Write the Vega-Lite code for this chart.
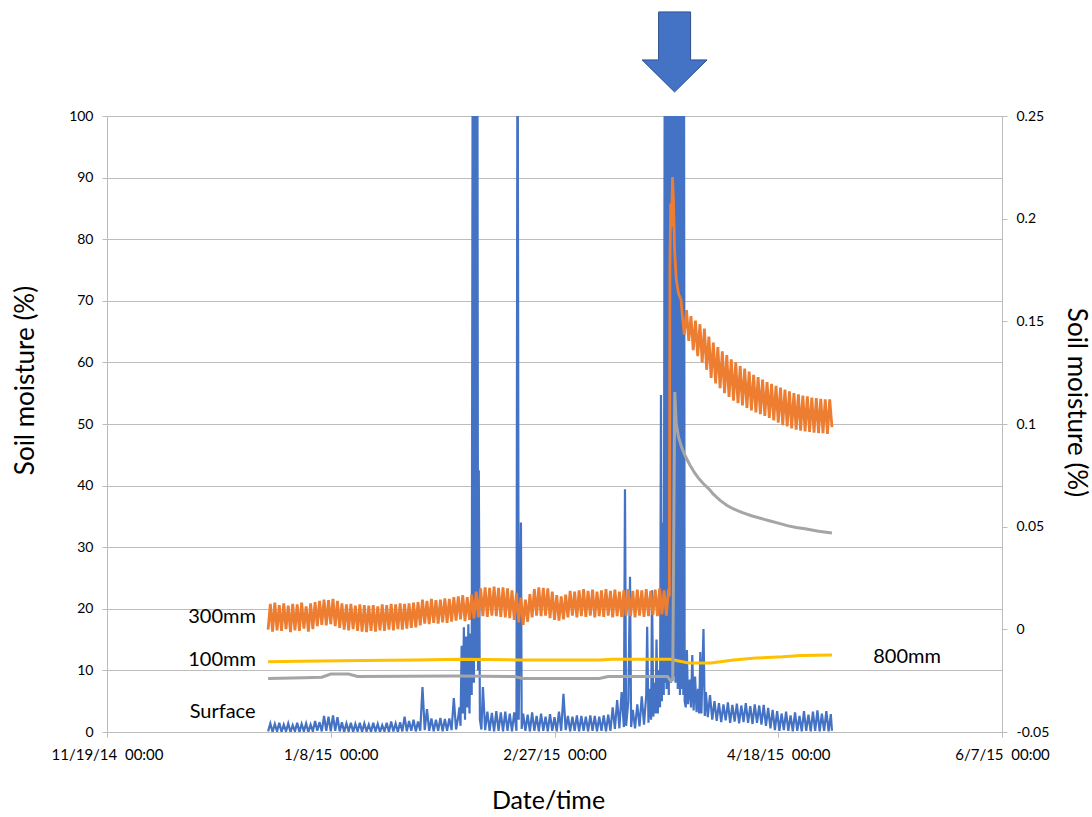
{
"$schema": "https://vega.github.io/schema/vega-lite/v6.json",
"width": 895, "height": 616,
"autosize": {"type": "none"},
"padding": {"left": 107, "top": 116, "right": 90, "bottom": 85},
"background": "white",
"config": {"view": {"stroke": null}, "font": "Lato"},
"layer": [
{
"encoding": {
 "x": {"field": "t", "type": "temporal",
  "scale": {"domain": [{"year":2014,"month":11,"date":19},{"year":2015,"month":6,"date":7}]},
  "axis": {"values": [{"year":2014,"month":11,"date":19},{"year":2015,"month":1,"date":8},{"year":2015,"month":2,"date":27},{"year":2015,"month":4,"date":18},{"year":2015,"month":6,"date":7}],
   "format": "%-m/%-d/%y\u00a0\u00a0%H:%M", "formatType": "time", "labelFlush": false, "labelOverlap": false,
   "grid": false, "domainColor": "#bcbcbc", "tickColor": "#bcbcbc", "tickSize": 5,
   "labelFont": "Lato", "labelFontSize": 15, "labelColor": "#000", "labelPadding": 10,
   "title": "Date/time", "titleFont": "Lato", "titleFontSize": 25, "titleFontWeight": "normal", "titleColor": "#000",
   "titleX": 441, "titleY": 68, "titleAlign": "center", "titleBaseline": "middle"}},
 "y": {"field": "v", "type": "quantitative",
  "scale": {"domain": [0, 100], "nice": false},
  "axis": {"values": [0,10,20,30,40,50,60,70,80,90,100], "grid": true, "gridColor": "#bcbcbc", "gridWidth": 1,
   "domainColor": "#bcbcbc", "tickColor": "#bcbcbc", "tickSize": 5,
   "labelFont": "Lato", "labelFontSize": 14, "labelColor": "#000", "labelPadding": 9,
   "title": "Soil moisture (%)", "titleFont": "Lato", "titleFontSize": 26, "titleFontWeight": "normal", "titleColor": "#000",
   "titleX": -82, "titleY": 264, "titleAngle": -90, "titleAlign": "center", "titleBaseline": "middle"}}
},
"layer": [
{
"data": {"values": [
{"t":"2014-12-25T00:00","v":0.1},{"t":"2014-12-25T12:00","v":1.4},
{"t":"2014-12-26T00:00","v":0.0},{"t":"2014-12-26T12:00","v":1.3},
{"t":"2014-12-27T00:00","v":0.1},{"t":"2014-12-27T12:00","v":1.5},
{"t":"2014-12-28T00:00","v":0.0},{"t":"2014-12-28T12:00","v":1.2},
{"t":"2014-12-29T00:00","v":0.1},{"t":"2014-12-29T12:00","v":1.4},
{"t":"2014-12-30T00:00","v":0.0},{"t":"2014-12-30T12:00","v":1.1},
{"t":"2014-12-31T00:00","v":0.1},{"t":"2014-12-31T12:00","v":1.5},
{"t":"2015-01-01T00:00","v":0.0},{"t":"2015-01-01T12:00","v":1.3},
{"t":"2015-01-02T00:00","v":0.1},{"t":"2015-01-02T12:00","v":1.4},
{"t":"2015-01-03T00:00","v":0.0},{"t":"2015-01-03T12:00","v":1.2},
{"t":"2015-01-04T00:00","v":0.1},{"t":"2015-01-04T12:00","v":1.8},
{"t":"2015-01-05T00:00","v":0.2},{"t":"2015-01-05T12:00","v":1.6},
{"t":"2015-01-06T00:00","v":0.1},{"t":"2015-01-06T12:00","v":2.6},
{"t":"2015-01-07T00:00","v":0.2},{"t":"2015-01-07T12:00","v":2.5},
{"t":"2015-01-08T00:00","v":0.1},{"t":"2015-01-08T12:00","v":2.7},
{"t":"2015-01-09T00:00","v":0.2},{"t":"2015-01-09T12:00","v":2.4},
{"t":"2015-01-10T00:00","v":0.1},{"t":"2015-01-10T12:00","v":1.6},
{"t":"2015-01-11T00:00","v":0.0},{"t":"2015-01-11T12:00","v":1.4},
{"t":"2015-01-12T00:00","v":0.1},{"t":"2015-01-12T12:00","v":1.5},
{"t":"2015-01-13T00:00","v":0.0},{"t":"2015-01-13T12:00","v":1.3},
{"t":"2015-01-14T00:00","v":0.1},{"t":"2015-01-14T12:00","v":1.5},
{"t":"2015-01-15T00:00","v":0.0},{"t":"2015-01-15T12:00","v":1.4},
{"t":"2015-01-16T00:00","v":0.1},{"t":"2015-01-16T12:00","v":1.2},
{"t":"2015-01-17T00:00","v":0.0},{"t":"2015-01-17T12:00","v":1.5},
{"t":"2015-01-18T00:00","v":0.1},{"t":"2015-01-18T12:00","v":1.3},
{"t":"2015-01-19T00:00","v":0.0},{"t":"2015-01-19T12:00","v":1.1},
{"t":"2015-01-20T00:00","v":0.1},{"t":"2015-01-20T12:00","v":1.5},
{"t":"2015-01-21T00:00","v":0.0},{"t":"2015-01-21T12:00","v":1.7},
{"t":"2015-01-22T00:00","v":0.1},{"t":"2015-01-22T12:00","v":1.4},
{"t":"2015-01-23T00:00","v":0.0},{"t":"2015-01-23T12:00","v":1.6},
{"t":"2015-01-24T00:00","v":0.1},{"t":"2015-01-24T12:00","v":2.5},
{"t":"2015-01-25T00:00","v":0.1},{"t":"2015-01-25T12:00","v":1.8},
{"t":"2015-01-26T00:00","v":0.2},{"t":"2015-01-26T12:00","v":2.0},
{"t":"2015-01-27T00:00","v":0.1},{"t":"2015-01-27T12:00","v":1.7},
{"t":"2015-01-28T00:00","v":0.2},{"t":"2015-01-28T12:00","v":7.3},
{"t":"2015-01-29T00:00","v":0.3},{"t":"2015-01-29T12:00","v":3.7},
{"t":"2015-01-30T00:00","v":0.2},{"t":"2015-01-30T12:00","v":2.2},
{"t":"2015-01-31T00:00","v":0.1},{"t":"2015-01-31T12:00","v":2.0},
{"t":"2015-02-01T00:00","v":0.2},{"t":"2015-02-01T12:00","v":2.3},
{"t":"2015-02-02T00:00","v":0.1},{"t":"2015-02-02T12:00","v":2.1},
{"t":"2015-02-03T00:00","v":0.2},{"t":"2015-02-03T12:00","v":2.2},
{"t":"2015-02-04T00:00","v":0.3},{"t":"2015-02-04T12:00","v":5.5},
{"t":"2015-02-05T00:00","v":0.4},{"t":"2015-02-05T12:00","v":2.5},
{"t":"2015-02-05T18:00","v":4.0},
{"t":"2015-02-06T00:00","v":1.0},{"t":"2015-02-06T06:00","v":14.0},{"t":"2015-02-06T12:00","v":3.0},{"t":"2015-02-06T18:00","v":17.0},
{"t":"2015-02-07T00:00","v":2.0},{"t":"2015-02-07T06:00","v":15.5},{"t":"2015-02-07T12:00","v":4.0},{"t":"2015-02-07T18:00","v":17.5},
{"t":"2015-02-08T00:00","v":3.0},{"t":"2015-02-08T06:00","v":16.0},{"t":"2015-02-08T12:00","v":6.0},{"t":"2015-02-08T18:00","v":130},
{"t":"2015-02-09T00:00","v":8.0},{"t":"2015-02-09T06:00","v":130},{"t":"2015-02-09T12:00","v":12.0},{"t":"2015-02-09T18:00","v":130},
{"t":"2015-02-09T22:00","v":10.0},{"t":"2015-02-10T02:00","v":42.5},{"t":"2015-02-10T08:00","v":2.0},{"t":"2015-02-10T16:00","v":0.4},
{"t":"2015-02-11T00:00","v":7.3},{"t":"2015-02-11T12:00","v":0.3},
{"t":"2015-02-12T00:00","v":3.3},{"t":"2015-02-12T12:00","v":0.2},
{"t":"2015-02-13T00:00","v":3.1},{"t":"2015-02-13T12:00","v":0.1},
{"t":"2015-02-14T00:00","v":3.4},{"t":"2015-02-14T12:00","v":0.2},
{"t":"2015-02-15T00:00","v":3.2},{"t":"2015-02-15T12:00","v":0.1},
{"t":"2015-02-16T00:00","v":3.3},{"t":"2015-02-16T12:00","v":0.2},
{"t":"2015-02-17T00:00","v":3.0},{"t":"2015-02-17T12:00","v":0.1},
{"t":"2015-02-18T00:00","v":3.2},{"t":"2015-02-18T12:00","v":0.2},{"t":"2015-02-18T18:00","v":130},
{"t":"2015-02-19T00:00","v":2.0},{"t":"2015-02-19T12:00","v":34.0},{"t":"2015-02-19T16:00","v":0.5},
{"t":"2015-02-20T00:00","v":3.0},{"t":"2015-02-20T12:00","v":0.2},
{"t":"2015-02-21T00:00","v":2.8},{"t":"2015-02-21T12:00","v":0.1},
{"t":"2015-02-22T00:00","v":3.2},{"t":"2015-02-22T12:00","v":0.2},
{"t":"2015-02-23T00:00","v":2.6},{"t":"2015-02-23T12:00","v":0.1},
{"t":"2015-02-24T00:00","v":3.0},{"t":"2015-02-24T12:00","v":0.2},
{"t":"2015-02-25T00:00","v":2.5},{"t":"2015-02-25T12:00","v":0.1},
{"t":"2015-02-26T00:00","v":2.9},{"t":"2015-02-26T12:00","v":0.2},
{"t":"2015-02-27T00:00","v":2.4},{"t":"2015-02-27T12:00","v":0.1},
{"t":"2015-02-28T00:00","v":3.3},{"t":"2015-02-28T12:00","v":0.2},
{"t":"2015-03-01T00:00","v":6.2},{"t":"2015-03-01T12:00","v":0.3},
{"t":"2015-03-02T00:00","v":2.6},{"t":"2015-03-02T12:00","v":0.1},
{"t":"2015-03-03T00:00","v":2.5},{"t":"2015-03-03T12:00","v":0.2},
{"t":"2015-03-04T00:00","v":2.7},{"t":"2015-03-04T12:00","v":0.1},
{"t":"2015-03-05T00:00","v":2.6},{"t":"2015-03-05T12:00","v":0.2},
{"t":"2015-03-06T00:00","v":2.5},{"t":"2015-03-06T12:00","v":0.1},
{"t":"2015-03-07T00:00","v":2.7},{"t":"2015-03-07T12:00","v":0.2},
{"t":"2015-03-08T00:00","v":2.6},{"t":"2015-03-08T12:00","v":0.1},
{"t":"2015-03-09T00:00","v":2.5},{"t":"2015-03-09T12:00","v":0.2},
{"t":"2015-03-10T00:00","v":2.7},{"t":"2015-03-10T12:00","v":0.1},
{"t":"2015-03-11T00:00","v":2.8},{"t":"2015-03-11T12:00","v":0.2},
{"t":"2015-03-12T00:00","v":4.0},{"t":"2015-03-12T12:00","v":0.5},
{"t":"2015-03-13T00:00","v":5.2},{"t":"2015-03-13T12:00","v":0.6},
{"t":"2015-03-14T00:00","v":6.5},{"t":"2015-03-14T12:00","v":0.8},{"t":"2015-03-14T18:00","v":39.4},
{"t":"2015-03-15T00:00","v":1.0},{"t":"2015-03-15T12:00","v":5.0},{"t":"2015-03-15T21:00","v":25.2},
{"t":"2015-03-16T03:00","v":0.8},{"t":"2015-03-16T12:00","v":3.6},
{"t":"2015-03-17T00:00","v":0.6},{"t":"2015-03-17T12:00","v":4.5},
{"t":"2015-03-18T00:00","v":0.9},{"t":"2015-03-18T12:00","v":5.8},
{"t":"2015-03-19T00:00","v":1.2},{"t":"2015-03-19T12:00","v":6.0},{"t":"2015-03-19T17:00","v":17.1},
{"t":"2015-03-20T00:00","v":1.5},{"t":"2015-03-20T08:00","v":7.0},{"t":"2015-03-20T14:00","v":2.0},{"t":"2015-03-20T19:00","v":23.0},
{"t":"2015-03-21T02:00","v":2.5},{"t":"2015-03-21T09:00","v":8.0},{"t":"2015-03-21T14:00","v":3.0},{"t":"2015-03-21T19:00","v":15.0},
{"t":"2015-03-22T02:00","v":3.0},{"t":"2015-03-22T09:00","v":10.0},{"t":"2015-03-22T14:00","v":4.0},{"t":"2015-03-22T19:00","v":54.7},
{"t":"2015-03-23T00:00","v":5.0},{"t":"2015-03-23T05:00","v":34.0},{"t":"2015-03-23T10:00","v":6.0},{"t":"2015-03-23T16:00","v":130},
{"t":"2015-03-23T19:00","v":8.0},{"t":"2015-03-23T22:00","v":130},
{"t":"2015-03-24T01:00","v":7.0},{"t":"2015-03-24T04:00","v":130},{"t":"2015-03-24T07:00","v":9.0},{"t":"2015-03-24T10:00","v":130},
{"t":"2015-03-24T13:00","v":6.0},{"t":"2015-03-24T16:00","v":130},{"t":"2015-03-24T19:00","v":10.0},{"t":"2015-03-24T22:00","v":130},
{"t":"2015-03-25T01:00","v":8.0},{"t":"2015-03-25T04:00","v":130},{"t":"2015-03-25T07:00","v":12.0},{"t":"2015-03-25T10:00","v":130},
{"t":"2015-03-25T13:00","v":9.0},{"t":"2015-03-25T16:00","v":130},{"t":"2015-03-25T19:00","v":11.0},{"t":"2015-03-25T22:00","v":130},
{"t":"2015-03-26T01:00","v":8.0},{"t":"2015-03-26T04:00","v":130},{"t":"2015-03-26T07:00","v":10.0},{"t":"2015-03-26T10:00","v":130},
{"t":"2015-03-26T13:00","v":7.0},{"t":"2015-03-26T16:00","v":130},{"t":"2015-03-26T19:00","v":9.0},{"t":"2015-03-26T22:00","v":130},
{"t":"2015-03-27T01:00","v":6.0},{"t":"2015-03-27T04:00","v":130},{"t":"2015-03-27T07:00","v":8.0},{"t":"2015-03-27T10:00","v":130},
{"t":"2015-03-27T13:00","v":7.0},{"t":"2015-03-27T16:00","v":130},{"t":"2015-03-27T19:00","v":6.0},{"t":"2015-03-27T22:00","v":130},
{"t":"2015-03-28T02:00","v":5.0},{"t":"2015-03-28T08:00","v":4.0},{"t":"2015-03-28T14:00","v":13.3},{"t":"2015-03-28T20:00","v":4.5},
{"t":"2015-03-29T06:00","v":8.5},{"t":"2015-03-29T12:00","v":4.0},{"t":"2015-03-29T19:00","v":12.5},
{"t":"2015-03-30T02:00","v":3.5},{"t":"2015-03-30T10:00","v":9.0},{"t":"2015-03-30T18:00","v":3.2},
{"t":"2015-03-31T02:00","v":7.0},{"t":"2015-03-31T08:00","v":3.0},{"t":"2015-03-31T14:00","v":13.0},{"t":"2015-03-31T20:00","v":3.0},
{"t":"2015-04-01T07:00","v":16.7},{"t":"2015-04-01T14:00","v":2.6},{"t":"2015-04-01T20:00","v":6.5},
{"t":"2015-04-02T06:00","v":2.4},{"t":"2015-04-02T18:00","v":6.0},
{"t":"2015-04-03T06:00","v":2.0},{"t":"2015-04-03T18:00","v":5.0},
{"t":"2015-04-04T06:00","v":1.8},{"t":"2015-04-04T18:00","v":4.7},
{"t":"2015-04-05T06:00","v":1.6},{"t":"2015-04-05T18:00","v":4.5},
{"t":"2015-04-06T06:00","v":1.9},{"t":"2015-04-06T18:00","v":4.8},
{"t":"2015-04-07T06:00","v":1.5},{"t":"2015-04-07T18:00","v":4.4},
{"t":"2015-04-08T06:00","v":1.7},{"t":"2015-04-08T18:00","v":4.6},
{"t":"2015-04-09T06:00","v":1.4},{"t":"2015-04-09T18:00","v":4.3},
{"t":"2015-04-10T06:00","v":1.6},{"t":"2015-04-10T18:00","v":4.7},
{"t":"2015-04-11T06:00","v":1.5},{"t":"2015-04-11T18:00","v":4.2},
{"t":"2015-04-12T06:00","v":1.3},{"t":"2015-04-12T18:00","v":4.5},
{"t":"2015-04-13T06:00","v":1.5},{"t":"2015-04-13T18:00","v":4.3},
{"t":"2015-04-14T06:00","v":1.2},{"t":"2015-04-14T18:00","v":4.4},
{"t":"2015-04-15T06:00","v":1.0},{"t":"2015-04-15T18:00","v":3.9},
{"t":"2015-04-16T06:00","v":0.6},{"t":"2015-04-16T18:00","v":3.6},
{"t":"2015-04-17T06:00","v":0.3},{"t":"2015-04-17T18:00","v":3.4},
{"t":"2015-04-18T06:00","v":0.2},{"t":"2015-04-18T18:00","v":3.0},
{"t":"2015-04-19T06:00","v":0.3},{"t":"2015-04-19T18:00","v":3.3},
{"t":"2015-04-20T06:00","v":0.2},{"t":"2015-04-20T18:00","v":2.7},
{"t":"2015-04-21T06:00","v":0.1},{"t":"2015-04-21T18:00","v":3.2},
{"t":"2015-04-22T06:00","v":0.2},{"t":"2015-04-22T18:00","v":2.6},
{"t":"2015-04-23T06:00","v":0.1},{"t":"2015-04-23T18:00","v":3.4},
{"t":"2015-04-24T06:00","v":0.2},{"t":"2015-04-24T18:00","v":2.8},
{"t":"2015-04-25T06:00","v":0.1},{"t":"2015-04-25T18:00","v":3.3},
{"t":"2015-04-26T06:00","v":0.2},{"t":"2015-04-26T18:00","v":3.5},
{"t":"2015-04-27T06:00","v":0.1},{"t":"2015-04-27T18:00","v":3.0},
{"t":"2015-04-28T06:00","v":0.2},{"t":"2015-04-28T18:00","v":3.4},
{"t":"2015-04-29T06:00","v":0.1},{"t":"2015-04-29T18:00","v":2.9},
{"t":"2015-04-30T00:00","v":0.2}
]},
"mark": {"type": "line", "color": "#4472C4", "strokeWidth": 2.2, "clip": true}
},
{
"data": {"values": [
{"t":"2014-12-25T00:00","v":11.4},{"t":"2015-01-01T00:00","v":11.5},{"t":"2015-01-15T00:00","v":11.6},
{"t":"2015-01-27T00:00","v":11.7},{"t":"2015-02-06T00:00","v":11.8},{"t":"2015-02-19T00:00","v":11.7},
{"t":"2015-03-09T00:00","v":11.7},{"t":"2015-03-12T00:00","v":11.8},{"t":"2015-03-25T00:00","v":11.8},
{"t":"2015-03-27T00:00","v":11.5},{"t":"2015-03-29T00:00","v":11.2},{"t":"2015-04-03T00:00","v":11.2},
{"t":"2015-04-08T00:00","v":11.7},{"t":"2015-04-13T00:00","v":12.0},{"t":"2015-04-19T00:00","v":12.2},
{"t":"2015-04-23T00:00","v":12.4},{"t":"2015-04-30T00:00","v":12.5}
]},
"mark": {"type": "line", "color": "#FFC000", "strokeWidth": 3}
},
{
"data": {"values": [
{"t":"2014-12-25T00:00","v":8.7},{"t":"2015-01-02T00:00","v":8.8},{"t":"2015-01-06T00:00","v":8.9},
{"t":"2015-01-08T00:00","v":9.4},{"t":"2015-01-12T00:00","v":9.4},{"t":"2015-01-14T00:00","v":9.0},
{"t":"2015-02-05T00:00","v":9.1},{"t":"2015-02-18T00:00","v":9.0},{"t":"2015-02-20T00:00","v":8.7},
{"t":"2015-03-09T00:00","v":8.7},{"t":"2015-03-11T00:00","v":9.0},{"t":"2015-03-24T06:00","v":9.0},
{"t":"2015-03-25T00:00","v":8.3},{"t":"2015-03-25T10:00","v":8.5},{"t":"2015-03-25T21:00","v":55.2},
{"t":"2015-03-26T05:00","v":50.1},{"t":"2015-03-26T17:00","v":47.9},{"t":"2015-03-27T10:00","v":46.2},
{"t":"2015-03-28T05:00","v":44.8},{"t":"2015-03-29T07:00","v":43.3},{"t":"2015-03-30T07:00","v":42.1},
{"t":"2015-03-31T07:00","v":41.1},{"t":"2015-04-01T07:00","v":40.3},{"t":"2015-04-02T14:00","v":39.4},
{"t":"2015-04-03T12:00","v":38.6},{"t":"2015-04-05T00:00","v":37.6},{"t":"2015-04-06T12:00","v":36.8},
{"t":"2015-04-08T00:00","v":36.2},{"t":"2015-04-10T00:00","v":35.6},{"t":"2015-04-12T00:00","v":35.1},
{"t":"2015-04-14T00:00","v":34.7},{"t":"2015-04-16T00:00","v":34.3},{"t":"2015-04-18T00:00","v":33.9},
{"t":"2015-04-20T00:00","v":33.5},{"t":"2015-04-22T00:00","v":33.2},{"t":"2015-04-24T00:00","v":33.0},
{"t":"2015-04-27T00:00","v":32.6},{"t":"2015-04-30T00:00","v":32.3}
]},
"mark": {"type": "line", "color": "#A5A5A5", "strokeWidth": 3}
},
{
"data": {"values": [
{"t":"2014-12-25T00:00","v":16.6},{"t":"2014-12-25T12:00","v":20.8},
{"t":"2014-12-26T00:00","v":16.3},{"t":"2014-12-26T12:00","v":21.0},
{"t":"2014-12-27T00:00","v":16.5},{"t":"2014-12-27T12:00","v":20.6},
{"t":"2014-12-28T00:00","v":16.4},{"t":"2014-12-28T12:00","v":20.9},
{"t":"2014-12-29T00:00","v":16.7},{"t":"2014-12-29T12:00","v":20.5},
{"t":"2014-12-30T00:00","v":16.2},{"t":"2014-12-30T12:00","v":20.8},
{"t":"2014-12-31T00:00","v":16.5},{"t":"2014-12-31T12:00","v":20.7},
{"t":"2015-01-01T00:00","v":16.4},{"t":"2015-01-01T12:00","v":21.0},
{"t":"2015-01-02T00:00","v":16.8},{"t":"2015-01-02T12:00","v":20.4},
{"t":"2015-01-03T00:00","v":16.3},{"t":"2015-01-03T12:00","v":20.9},
{"t":"2015-01-04T00:00","v":16.7},{"t":"2015-01-04T12:00","v":21.1},
{"t":"2015-01-05T00:00","v":17.2},{"t":"2015-01-05T12:00","v":21.3},
{"t":"2015-01-06T00:00","v":17.4},{"t":"2015-01-06T12:00","v":21.5},
{"t":"2015-01-07T00:00","v":17.3},{"t":"2015-01-07T12:00","v":21.4},
{"t":"2015-01-08T00:00","v":17.5},{"t":"2015-01-08T12:00","v":21.6},
{"t":"2015-01-09T00:00","v":17.2},{"t":"2015-01-09T12:00","v":21.3},
{"t":"2015-01-10T00:00","v":16.9},{"t":"2015-01-10T12:00","v":20.9},
{"t":"2015-01-11T00:00","v":16.6},{"t":"2015-01-11T12:00","v":20.7},
{"t":"2015-01-12T00:00","v":16.5},{"t":"2015-01-12T12:00","v":20.8},
{"t":"2015-01-13T00:00","v":16.7},{"t":"2015-01-13T12:00","v":20.5},
{"t":"2015-01-14T00:00","v":16.4},{"t":"2015-01-14T12:00","v":20.7},
{"t":"2015-01-15T00:00","v":16.3},{"t":"2015-01-15T12:00","v":20.6},
{"t":"2015-01-16T00:00","v":16.2},{"t":"2015-01-16T12:00","v":20.5},
{"t":"2015-01-17T00:00","v":16.4},{"t":"2015-01-17T12:00","v":20.6},
{"t":"2015-01-18T00:00","v":16.3},{"t":"2015-01-18T12:00","v":20.4},
{"t":"2015-01-19T00:00","v":16.5},{"t":"2015-01-19T12:00","v":20.7},
{"t":"2015-01-20T00:00","v":16.4},{"t":"2015-01-20T12:00","v":20.6},
{"t":"2015-01-21T00:00","v":16.6},{"t":"2015-01-21T12:00","v":20.8},
{"t":"2015-01-22T00:00","v":16.5},{"t":"2015-01-22T12:00","v":20.7},
{"t":"2015-01-23T00:00","v":16.7},{"t":"2015-01-23T12:00","v":20.9},
{"t":"2015-01-24T00:00","v":16.6},{"t":"2015-01-24T12:00","v":20.8},
{"t":"2015-01-25T00:00","v":16.8},{"t":"2015-01-25T12:00","v":20.9},
{"t":"2015-01-26T00:00","v":16.9},{"t":"2015-01-26T12:00","v":21.0},
{"t":"2015-01-27T00:00","v":17.0},{"t":"2015-01-27T12:00","v":21.1},
{"t":"2015-01-28T00:00","v":17.3},{"t":"2015-01-28T12:00","v":21.5},
{"t":"2015-01-29T00:00","v":17.6},{"t":"2015-01-29T12:00","v":21.3},
{"t":"2015-01-30T00:00","v":17.5},{"t":"2015-01-30T12:00","v":21.6},
{"t":"2015-01-31T00:00","v":17.7},{"t":"2015-01-31T12:00","v":21.4},
{"t":"2015-02-01T00:00","v":17.6},{"t":"2015-02-01T12:00","v":21.5},
{"t":"2015-02-02T00:00","v":17.8},{"t":"2015-02-02T12:00","v":21.7},
{"t":"2015-02-03T00:00","v":17.7},{"t":"2015-02-03T12:00","v":21.6},
{"t":"2015-02-04T00:00","v":17.9},{"t":"2015-02-04T12:00","v":21.9},
{"t":"2015-02-05T00:00","v":18.1},{"t":"2015-02-05T12:00","v":22.0},
{"t":"2015-02-06T00:00","v":18.3},{"t":"2015-02-06T12:00","v":22.2},
{"t":"2015-02-07T00:00","v":18.0},{"t":"2015-02-07T12:00","v":21.9},
{"t":"2015-02-08T00:00","v":18.2},{"t":"2015-02-08T12:00","v":22.3},
{"t":"2015-02-09T00:00","v":18.4},{"t":"2015-02-09T12:00","v":22.8},
{"t":"2015-02-10T00:00","v":18.6},{"t":"2015-02-10T12:00","v":23.3},
{"t":"2015-02-11T00:00","v":18.8},{"t":"2015-02-11T12:00","v":23.5},
{"t":"2015-02-12T00:00","v":18.7},{"t":"2015-02-12T12:00","v":23.4},
{"t":"2015-02-13T00:00","v":18.9},{"t":"2015-02-13T12:00","v":23.6},
{"t":"2015-02-14T00:00","v":18.8},{"t":"2015-02-14T12:00","v":23.4},
{"t":"2015-02-15T00:00","v":18.7},{"t":"2015-02-15T12:00","v":23.5},
{"t":"2015-02-16T00:00","v":18.6},{"t":"2015-02-16T12:00","v":23.3},
{"t":"2015-02-17T00:00","v":18.5},{"t":"2015-02-17T12:00","v":23.0},
{"t":"2015-02-18T00:00","v":18.2},{"t":"2015-02-18T12:00","v":22.6},
{"t":"2015-02-19T00:00","v":17.8},{"t":"2015-02-19T12:00","v":21.8},
{"t":"2015-02-20T00:00","v":17.4},{"t":"2015-02-20T12:00","v":21.5},
{"t":"2015-02-21T00:00","v":17.9},{"t":"2015-02-21T12:00","v":22.4},
{"t":"2015-02-22T00:00","v":18.6},{"t":"2015-02-22T12:00","v":23.2},
{"t":"2015-02-23T00:00","v":18.9},{"t":"2015-02-23T12:00","v":23.5},
{"t":"2015-02-24T00:00","v":18.8},{"t":"2015-02-24T12:00","v":23.4},
{"t":"2015-02-25T00:00","v":18.9},{"t":"2015-02-25T12:00","v":23.3},
{"t":"2015-02-26T00:00","v":18.5},{"t":"2015-02-26T12:00","v":22.8},
{"t":"2015-02-27T00:00","v":18.2},{"t":"2015-02-27T12:00","v":22.2},
{"t":"2015-02-28T00:00","v":18.1},{"t":"2015-02-28T12:00","v":22.0},
{"t":"2015-03-01T00:00","v":18.3},{"t":"2015-03-01T12:00","v":22.3},
{"t":"2015-03-02T00:00","v":18.6},{"t":"2015-03-02T12:00","v":22.9},
{"t":"2015-03-03T00:00","v":18.9},{"t":"2015-03-03T12:00","v":22.8},
{"t":"2015-03-04T00:00","v":18.6},{"t":"2015-03-04T12:00","v":23.0},
{"t":"2015-03-05T00:00","v":18.8},{"t":"2015-03-05T12:00","v":23.2},
{"t":"2015-03-06T00:00","v":18.7},{"t":"2015-03-06T12:00","v":22.9},
{"t":"2015-03-07T00:00","v":18.9},{"t":"2015-03-07T12:00","v":23.1},
{"t":"2015-03-08T00:00","v":18.6},{"t":"2015-03-08T12:00","v":22.8},
{"t":"2015-03-09T00:00","v":18.8},{"t":"2015-03-09T12:00","v":23.0},
{"t":"2015-03-10T00:00","v":18.7},{"t":"2015-03-10T12:00","v":23.2},
{"t":"2015-03-11T00:00","v":18.9},{"t":"2015-03-11T12:00","v":22.9},
{"t":"2015-03-12T00:00","v":18.6},{"t":"2015-03-12T12:00","v":23.1},
{"t":"2015-03-13T00:00","v":18.8},{"t":"2015-03-13T12:00","v":22.8},
{"t":"2015-03-14T00:00","v":18.7},{"t":"2015-03-14T12:00","v":23.0},
{"t":"2015-03-15T00:00","v":18.9},{"t":"2015-03-15T12:00","v":23.2},
{"t":"2015-03-16T00:00","v":18.8},{"t":"2015-03-16T12:00","v":22.9},
{"t":"2015-03-17T00:00","v":18.6},{"t":"2015-03-17T12:00","v":23.1},
{"t":"2015-03-18T00:00","v":18.9},{"t":"2015-03-18T12:00","v":23.0},
{"t":"2015-03-19T00:00","v":18.7},{"t":"2015-03-19T12:00","v":23.2},
{"t":"2015-03-20T00:00","v":18.8},{"t":"2015-03-20T12:00","v":22.9},
{"t":"2015-03-21T00:00","v":19.0},{"t":"2015-03-21T12:00","v":23.1},
{"t":"2015-03-22T00:00","v":18.8},{"t":"2015-03-22T12:00","v":23.3},
{"t":"2015-03-23T00:00","v":19.1},{"t":"2015-03-23T12:00","v":23.0},
{"t":"2015-03-24T00:00","v":18.9},{"t":"2015-03-24T12:00","v":23.2},
{"t":"2015-03-24T16:00","v":22.0},{"t":"2015-03-24T19:00","v":75.5},{"t":"2015-03-24T23:00","v":85.8},
{"t":"2015-03-25T03:00","v":82.0},{"t":"2015-03-25T09:00","v":90.1},{"t":"2015-03-25T14:00","v":86.4},{"t":"2015-03-25T20:00","v":78.3},
{"t":"2015-03-26T05:00","v":73.4},{"t":"2015-03-26T17:00","v":71.2},
{"t":"2015-03-27T07:00","v":70.1},{"t":"2015-03-27T14:00","v":67.4},
{"t":"2015-03-28T00:00","v":64.5},{"t":"2015-03-28T12:00","v":68.5},
{"t":"2015-03-29T00:00","v":63.5},{"t":"2015-03-29T12:00","v":67.5},
{"t":"2015-03-30T00:00","v":62.0},{"t":"2015-03-30T12:00","v":66.8},
{"t":"2015-03-31T00:00","v":61.0},{"t":"2015-03-31T12:00","v":66.2},
{"t":"2015-04-01T00:00","v":60.0},{"t":"2015-04-01T12:00","v":65.5},
{"t":"2015-04-02T00:00","v":58.8},{"t":"2015-04-02T12:00","v":64.2},
{"t":"2015-04-03T00:00","v":57.5},{"t":"2015-04-03T12:00","v":63.2},
{"t":"2015-04-04T00:00","v":56.6},{"t":"2015-04-04T12:00","v":62.5},
{"t":"2015-04-05T00:00","v":55.8},{"t":"2015-04-05T12:00","v":61.8},
{"t":"2015-04-06T00:00","v":55.0},{"t":"2015-04-06T12:00","v":61.2},
{"t":"2015-04-07T00:00","v":54.4},{"t":"2015-04-07T12:00","v":60.5},
{"t":"2015-04-08T00:00","v":53.8},{"t":"2015-04-08T12:00","v":60.0},
{"t":"2015-04-09T00:00","v":53.4},{"t":"2015-04-09T12:00","v":59.4},
{"t":"2015-04-10T00:00","v":53.0},{"t":"2015-04-10T12:00","v":59.0},
{"t":"2015-04-11T00:00","v":52.6},{"t":"2015-04-11T12:00","v":58.5},
{"t":"2015-04-12T00:00","v":52.2},{"t":"2015-04-12T12:00","v":58.0},
{"t":"2015-04-13T00:00","v":51.9},{"t":"2015-04-13T12:00","v":57.6},
{"t":"2015-04-14T00:00","v":51.6},{"t":"2015-04-14T12:00","v":57.2},
{"t":"2015-04-15T00:00","v":51.3},{"t":"2015-04-15T12:00","v":56.8},
{"t":"2015-04-16T00:00","v":51.0},{"t":"2015-04-16T12:00","v":56.5},
{"t":"2015-04-17T00:00","v":50.6},{"t":"2015-04-17T12:00","v":56.2},
{"t":"2015-04-18T00:00","v":50.2},{"t":"2015-04-18T12:00","v":55.9},
{"t":"2015-04-19T00:00","v":49.8},{"t":"2015-04-19T12:00","v":55.6},
{"t":"2015-04-20T00:00","v":49.6},{"t":"2015-04-20T12:00","v":55.3},
{"t":"2015-04-21T00:00","v":49.3},{"t":"2015-04-21T12:00","v":55.0},
{"t":"2015-04-22T00:00","v":49.1},{"t":"2015-04-22T12:00","v":54.8},
{"t":"2015-04-23T00:00","v":48.9},{"t":"2015-04-23T12:00","v":54.6},
{"t":"2015-04-24T00:00","v":48.8},{"t":"2015-04-24T12:00","v":54.5},
{"t":"2015-04-25T00:00","v":48.7},{"t":"2015-04-25T12:00","v":54.3},
{"t":"2015-04-26T00:00","v":48.6},{"t":"2015-04-26T12:00","v":54.2},
{"t":"2015-04-27T00:00","v":48.5},{"t":"2015-04-27T12:00","v":54.1},
{"t":"2015-04-28T00:00","v":48.5},{"t":"2015-04-28T12:00","v":54.0},
{"t":"2015-04-29T00:00","v":48.4},{"t":"2015-04-29T12:00","v":54.0},
{"t":"2015-04-30T00:00","v":49.5}
]},
"mark": {"type": "line", "color": "#ED7D31", "strokeWidth": 2.8}
},
{
"data": {"values": [
{"t":"2014-12-14T17:00","v":18.7,"label":"300mm"},
{"t":"2014-12-14T17:00","v":11.7,"label":"100mm"},
{"t":"2014-12-14T20:00","v":3.2,"label":"Surface"},
{"t":"2015-05-16T19:00","v":12.2,"label":"800mm"}
]},
"mark": {"type": "text", "font": "Lato", "fontSize": 20, "color": "#000", "align": "center", "baseline": "middle"},
"encoding": {"text": {"field": "label", "type": "nominal"}}
},
{
"data": {"values": [{"t":"2015-03-25T20:00","v":110.4}]},
"mark": {"type": "point", "shape": "M-0.4,-1L0.4,-1L0.4,0.2L0.8125,0.2L0,1L-0.8125,0.2L-0.4,0.2Z", "size": 6400, "filled": true, "color": "#4472C4", "fill": "#4472C4", "stroke": "#2F528F", "strokeWidth": 1, "opacity": 1}
}
]
},
{
"data": {"values": [{"r": -0.05}, {"r": 0.25}]},
"mark": {"type": "point", "opacity": 0},
"encoding": {
 "y": {"field": "r", "type": "quantitative",
  "scale": {"domain": [-0.05, 0.25], "nice": false, "zero": false},
  "axis": {"orient": "right", "values": [-0.05, 0, 0.05, 0.1, 0.15, 0.2, 0.25],
   "labelExpr": "datum.value < 0 ? '-' + format(-datum.value, '.2~f') : format(datum.value, '.2~f')",
   "grid": false, "domainColor": "#bcbcbc", "tickColor": "#bcbcbc", "tickSize": 5,
   "labelFont": "Lato", "labelFontSize": 14, "labelColor": "#000", "labelPadding": 9,
   "title": "Soil moisture (%)", "titleFont": "Lato", "titleFontSize": 26, "titleFontWeight": "normal", "titleColor": "#000",
   "titleX": 73, "titleY": 286, "titleAngle": 90, "titleAlign": "center", "titleBaseline": "middle"}}
}
}
],
"resolve": {"scale": {"y": "independent"}, "axis": {"y": "independent"}}
}
